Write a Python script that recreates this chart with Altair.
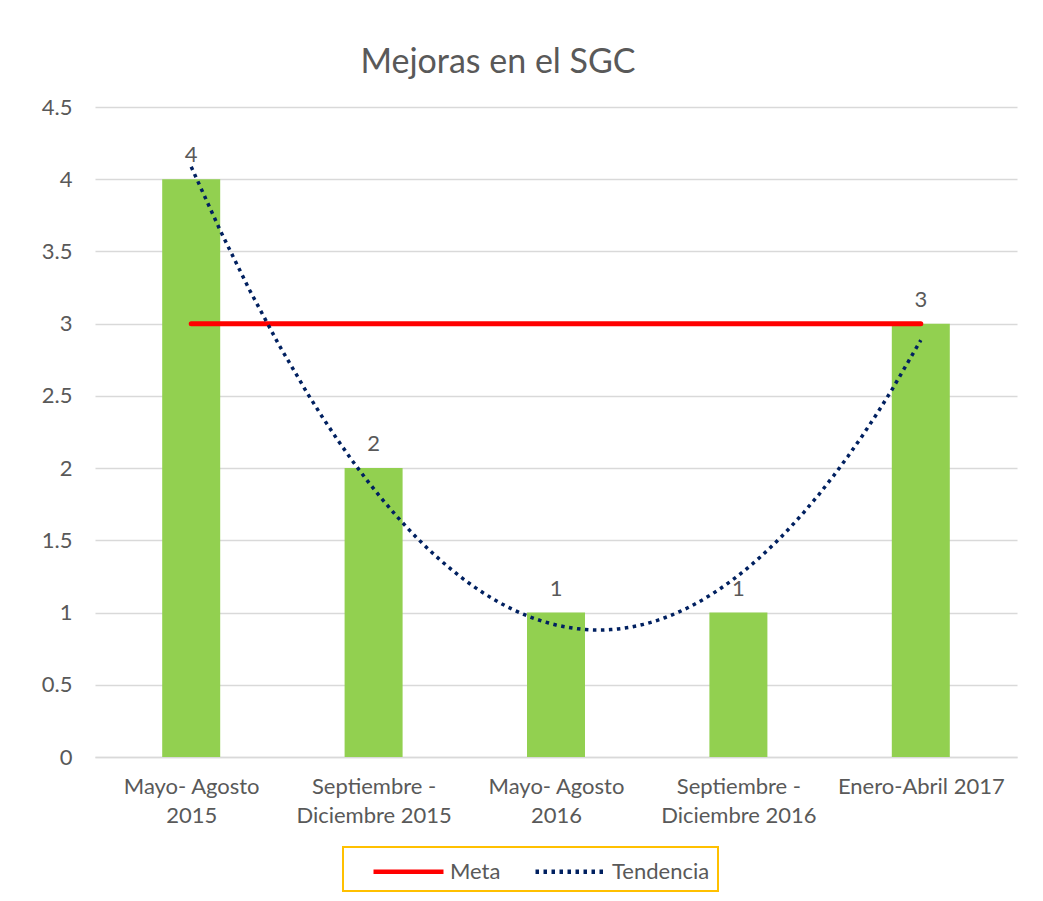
import json
import altair as alt
import pandas as pd

# ---- data ----
label_lines = [
    ["Mayo- Agosto", "2015"],
    ["Septiembre -", "Diciembre  2015"],
    ["Mayo- Agosto", "2016"],
    ["Septiembre -", "Diciembre  2016"],
    ["Enero-Abril 2017"],
]
positions = [1, 2, 3, 4, 5]
values = [4, 2, 1, 1, 3]
meta_value = 3
series_names = ["Meta", "Tendencia"]
y_ticks = [0, 0.5, 1, 1.5, 2, 2.5, 3, 3.5, 4, 4.5]

df = pd.DataFrame({"pos": positions, "valor": values})
meta_df = pd.DataFrame({
    "pos": [positions[0], positions[-1]],
    "valor": [meta_value, meta_value],
    "serie": [series_names[0], series_names[0]],
})

label_expr = json.dumps(label_lines) + "[datum.value - 1]"

GRAY = "#595959"
GRID = "#d9d9d9"

x_enc = alt.X(
    "pos:Q",
    scale=alt.Scale(domain=[0.5, 5.5], nice=False, zero=False),
    axis=alt.Axis(
        values=positions, labelExpr=label_expr, title=None, grid=False,
        ticks=False, domainColor=GRID, domainWidth=1.5, labelFontSize=22,
        labelColor=GRAY, labelPadding=19, labelLineHeight=29,
        labelFlush=False, labelOverlap=False, labelBound=False,
    ),
)
y_enc = alt.Y(
    "valor:Q",
    scale=alt.Scale(domain=[0, 4.5], nice=False),
    axis=alt.Axis(
        values=y_ticks, format="~g", title=None, domain=False, ticks=False,
        gridColor=GRID, gridWidth=1.5, labelPadding=23, labelFontSize=22,
        labelColor=GRAY,
    ),
)

color_scale = alt.Scale(domain=series_names, range=["#FF0000", "#002060"])
dash_scale = alt.Scale(domain=series_names, range=[[1, 0], [3.5, 4.5]])
legend = alt.Legend(
    title=None, orient="none", legendX=248, legendY=740,
    direction="horizontal", strokeColor="#FFC000", fillColor="white",
    padding=8, symbolType="M-2.5,0H2.5", symbolSize=784, symbolStrokeWidth=4.5,
    labelFontSize=22, labelColor=GRAY, columnPadding=12, labelOffset=25,
    symbolOffset=41,
)

bars = alt.Chart(df).mark_bar(size=58, color="#92D050").encode(x=x_enc, y=y_enc)
texts = alt.Chart(df).mark_text(
    dy=-17, baseline="alphabetic", fontSize=22, color=GRAY
).encode(x="pos:Q", y="valor:Q", text="valor:Q")

meta = alt.Chart(meta_df).mark_line(strokeWidth=5, strokeCap="round").encode(
    x="pos:Q", y="valor:Q",
    color=alt.Color("serie:N", scale=color_scale, legend=legend),
    strokeDash=alt.StrokeDash("serie:N", scale=dash_scale, legend=legend),
)

trend = alt.Chart(df).transform_regression(
    "pos", "valor", method="poly", order=2, extent=[1, 5]
).transform_calculate(serie="'Tendencia'").mark_line(
    strokeWidth=3.5, strokeCap="butt"
).encode(
    x="pos:Q", y="valor:Q",
    color=alt.Color("serie:N", scale=color_scale, legend=legend),
    strokeDash=alt.StrokeDash("serie:N", scale=dash_scale, legend=legend),
)

chart = alt.layer(bars, meta, trend, texts).properties(
    width=922, height=650,
    title=alt.TitleParams(
        "Mejoras en el SGC", fontSize=34, font="Lato", color=GRAY,
        fontWeight="normal", anchor="middle", dx=-58, offset=16,
    ),
    autosize=alt.AutoSizeParams(type="none"),
    padding={"left": 87, "top": 99, "right": 18, "bottom": 136},
).configure(font="Lato").configure_view(stroke=None).configure_legend(
    strokeColor="#FFC000", strokeWidth=2
)

chart.save("out.html", embed_options={"renderer": "svg", "actions": False})
